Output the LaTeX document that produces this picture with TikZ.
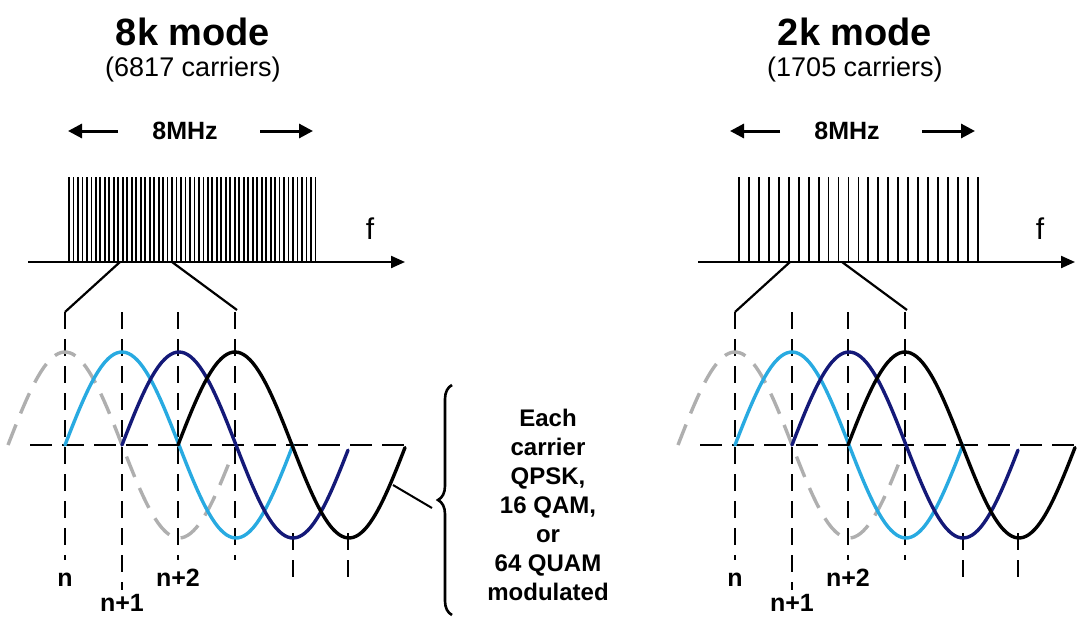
\documentclass[tikz,border=0pt]{standalone}
\usepackage{fontspec}
\setmainfont{Liberation Sans}
\usetikzlibrary{decorations.pathreplacing,arrows.meta}
\definecolor{lblue}{RGB}{40,170,225}
\definecolor{dblue}{RGB}{20,25,120}
\definecolor{ggray}{RGB}{175,175,175}
\begin{document}
\begin{tikzpicture}[x=1pt,y=-1pt,
  title/.style={font=\bfseries\fontsize{38}{40}\selectfont,inner sep=0},
  sub/.style={font=\fontsize{27}{30}\selectfont,inner sep=0},
  lab/.style={font=\bfseries\fontsize{25}{28}\selectfont,inner sep=0},
  vd/.style={line width=2pt,dash pattern=on 17pt off 10pt},
  wave/.style={line width=3.4pt,line cap=round},
  arr/.style={line width=3pt,-{Triangle[length=14pt,width=14pt]}}]
\useasboundingbox (0,0) rectangle (1080,629);
\def\panel#1#2#3#4#5#6#7{%
\begin{scope}[xshift=#1]
 \node[title] (t#7) at (#2,32) {#3};
 \node[sub] (s#7) at (#2,70) {#4};
 \node[lab] (m#7) at (#2-8,131) {8MHz};
 \coordinate (la#7) at (#2-75,131);
 \coordinate (lb#7) at (#2-125,131);
 \coordinate (ra#7) at (#2+67,131);
 \coordinate (rb#7) at (#2+120,131);
 \draw[arr] (la#7) -- (lb#7);
 \draw[arr] (ra#7) -- (rb#7);
 \foreach \i in {0,...,#5} \draw[line width=1.8pt] (69+\i*#6,177) -- (69+\i*#6,262);
 \coordinate (a0#7) at (28,262); \coordinate (a1#7) at (405,262);
 \draw[line width=2.2pt,-{Triangle[length=14pt,width=12pt]}] (a0#7) -- (a1#7);
 \node[font=\fontsize{30}{32}\selectfont,inner sep=0] (f#7) at (370,229) {f};
 \coordinate (z1#7) at (120,262); \coordinate (z2#7) at (65,312);
 \coordinate (z3#7) at (172,262); \coordinate (z4#7) at (237,310);
 \draw[line width=2.2pt] (z1#7) -- (z2#7);
 \draw[line width=2.2pt] (z3#7) -- (z4#7);
 \draw[vd] (65,312) -- (65,560);
 \draw[vd] (122,312) -- (122,590);
 \draw[vd] (178,312) -- (178,560);
 \draw[vd] (235,312) -- (235,560);
 \draw[vd] (293,533) -- (293,578);
 \draw[vd] (348,533) -- (348,578);
 \draw[line width=2pt,dash pattern=on 22pt off 10pt] (30,445) -- (405,445);
 \draw[wave,ggray,dash pattern=on 22pt off 12pt,line cap=butt] plot[domain=8:230,samples=80,smooth] (\x,{445-93*sin((\x-8)/228*360)});
 \draw[wave,lblue] plot[domain=65:293,samples=80,smooth] (\x,{445-93*sin((\x-65)/228*360)});
 \draw[wave,dblue] plot[domain=122:348,samples=80,smooth] (\x,{445-93*sin((\x-122)/228*360)});
 \draw[wave,black] plot[domain=178:405,samples=80,smooth] (\x,{445-93*sin((\x-178)/228*360)});
 \node[lab] (n#7) at (65,580) {n};
 \node[lab] (n1#7) at (122,603) {n+1};
 \node[lab] (n2#7) at (178,578) {n+2};
\end{scope}}
\panel{0}{193}{8k mode}{(6817 carriers)}{55}{4.48}{L}
\panel{670}{185}{2k mode}{(1705 carriers)}{24}{9.95}{R}
\coordinate (w) at (393,485);
\coordinate (b) at (432,508);
\draw[line width=2pt] (w) -- (b);
\draw[line width=2.6pt,decorate,decoration={brace,amplitude=14pt,aspect=0.5}] (452,615) -- (452,385);
\node[font=\bfseries\fontsize{24}{29}\selectfont,align=center,inner sep=0] (txt) at (548,505) {Each\\carrier\\QPSK,\\16 QAM,\\or\\64 QUAM\\modulated};
\end{tikzpicture}
\end{document}
